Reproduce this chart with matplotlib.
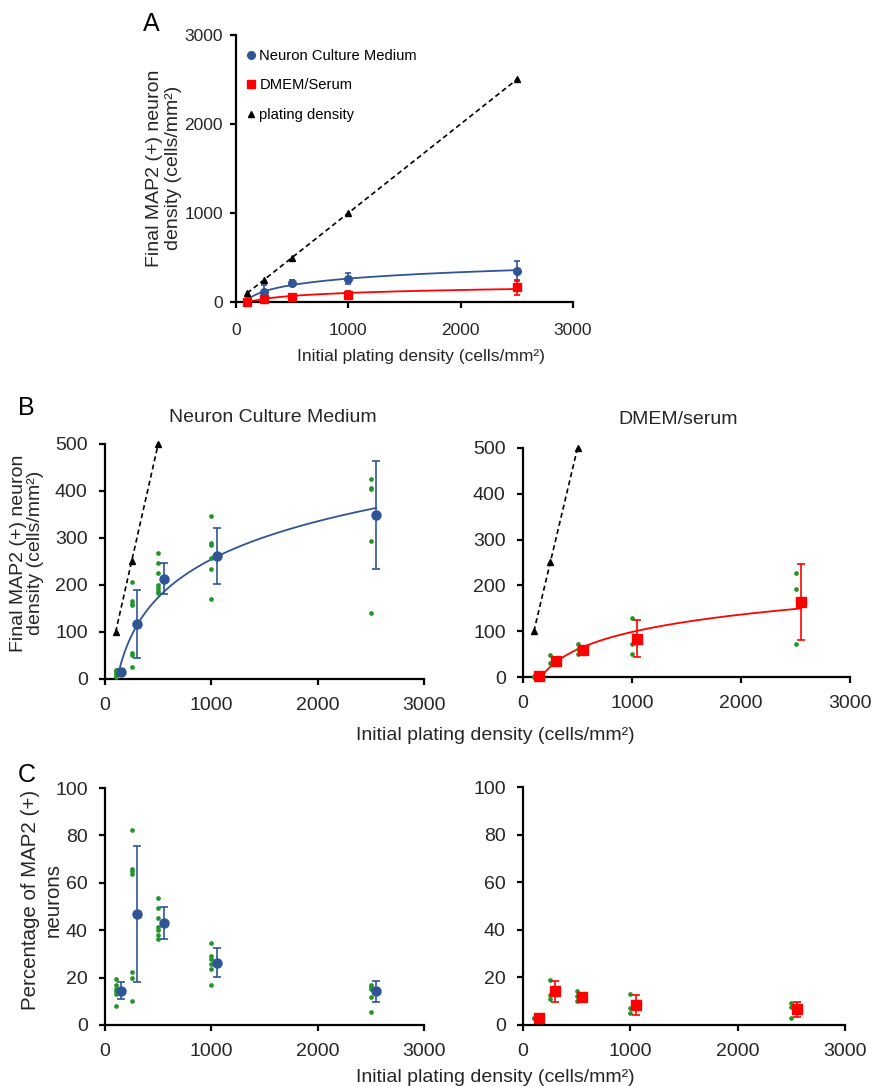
import matplotlib
matplotlib.use('Agg')
import matplotlib.pyplot as plt
import matplotlib.lines as mlines
import numpy as np

plt.rcParams['font.family'] = ['Liberation Sans', 'DejaVu Sans']

# plating densities (cells/mm2); means are drawn shifted by +50 in B and C
plating = [100, 250, 500, 1000, 2500]
plating_shift = [150, 300, 550, 1050, 2550]

# final MAP2(+) neuron density, means and SD
ncm_mean = [15, 117, 213, 262, 349]
ncm_sd = [6, 72, 33, 59, 114]
dmem_mean = [2, 34, 59, 84, 164]
dmem_sd = [1, 6, 5, 41, 83]

# individual wells (green dots), one list per plating density
ncm_pts = [[20, 13, 8, 5, 17],
           [206, 166, 160, 158, 55, 50, 26],
           [267, 246, 226, 200, 194, 187, 182],
           [346, 289, 284, 257, 234, 170],
           [425, 406, 404, 294, 140]]
dmem_pts = [[3, 1],
            [47, 31],
            [71, 62, 51],
            [129, 73, 51],
            [228, 193, 71]]

# percentage of MAP2(+) neurons
ncm_pct = [14.5, 47, 43, 26.3, 14.3]
ncm_pct_sd = [3.6, 28.7, 6.8, 6.0, 4.4]
dmem_pct = [2.8, 14.1, 11.9, 8.4, 6.6]
dmem_pct_sd = [0.5, 4.3, 1.5, 4.1, 3.2]
ncm_pct_pts = [[19.3, 16.7, 15.3, 14.3, 13.2, 8.0],
               [82.3, 66, 65, 63.5, 22.5, 19.7, 10.1],
               [53.7, 49.4, 45.3, 41.4, 40, 38, 36.3],
               [34.7, 29.1, 28, 25.9, 23.5, 17],
               [17, 16, 15.2, 11.8, 5.6]]
dmem_pct_pts = [[3.1, 2.8],
                [18.9, 12.6, 11.1],
                [14.4, 12.2, 10.2],
                [12.9, 7.3, 4.9],
                [9.1, 7.7, 3.1]]

blue = '#2f5597'
red = '#ff0000'
green = '#23962a'
tcol = '#262626'


def style(ax, ymax, ystep, fs, xpad, ypad):
    ax.set_xlim(0, 3000)
    ax.set_ylim(0, ymax)
    ax.set_xticks([0, 1000, 2000, 3000])
    ax.set_yticks(np.arange(0, ymax + 1, ystep))
    for s in ['top', 'right']:
        ax.spines[s].set_visible(False)
    for s in ['left', 'bottom']:
        ax.spines[s].set_linewidth(1.6)
    ax.tick_params(direction='out', length=4, width=1.6, labelsize=fs, labelcolor=tcol)
    ax.tick_params(axis='x', pad=xpad)
    ax.tick_params(axis='y', pad=ypad)


def logfit(ax, x, y, color, lw=1.3):
    a, b = np.polyfit(np.log(x), y, 1)
    x0 = max(x[0] * 0.8, np.exp(-b / a))
    xs = np.linspace(x0, x[-1], 200)
    ax.plot(xs, a * np.log(xs) + b, color=color, lw=lw, zorder=2)


def dots(ax, pts):
    for xv, ys in zip(plating, pts):
        ax.plot([xv] * len(ys), ys, 'o', color=green, ms=3.4, mec='none', zorder=3, clip_on=False)


def means(ax, x, m, sd, color, marker, ms, cap):
    ax.errorbar(x, m, yerr=sd, fmt='none', ecolor=color, elinewidth=1.2, capsize=cap, capthick=1.2, zorder=4)
    ax.plot(x, m, marker, color=color, ms=ms, mec=color, zorder=5, clip_on=False)


fig = plt.figure(figsize=(8.73, 10.86), dpi=100)

# ---- A ----
axA = fig.add_axes([0.2703, 0.7219, 0.3861, 0.2459])
style(axA, 3000, 1000, 12.5, 11, 5.5)
axA.plot(plating, plating, '--', color='black', lw=1.2, dashes=(3, 2), zorder=2)
axA.plot(plating, plating, '^', color='black', ms=5, zorder=5, clip_on=False)
logfit(axA, plating, ncm_mean, blue)
logfit(axA, plating, dmem_mean, red)
means(axA, plating, ncm_mean, ncm_sd, blue, 'o', 5.5, 2.5)
means(axA, plating, dmem_mean, dmem_sd, red, 's', 5.5, 2.5)
h1 = mlines.Line2D([], [], color=blue, marker='o', ls='none', ms=5.5)
h2 = mlines.Line2D([], [], color=red, marker='s', ls='none', ms=5.5)
h3 = mlines.Line2D([], [], color='black', marker='^', ls='none', ms=5)
fig.legend([h1, h2, h3], ['Neuron Culture Medium', 'DMEM/Serum', 'plating density'],
           loc='upper left', bbox_to_anchor=(0.2835, 0.9550), frameon=False, fontsize=10.6,
           handlelength=0.5, handletextpad=0.3, labelspacing=1.05, borderpad=0, borderaxespad=0)

# ---- B ----
axB1 = fig.add_axes([0.1203, 0.3748, 0.3654, 0.2164])
axB2 = fig.add_axes([0.5991, 0.3766, 0.3746, 0.2109])
for ax, m, sd, pts, col, mk in [(axB1, ncm_mean, ncm_sd, ncm_pts, blue, 'o'),
                                (axB2, dmem_mean, dmem_sd, dmem_pts, red, 's')]:
    style(ax, 500, 100, 14, 9, 8.5)
    ax.plot(plating[:3], plating[:3], '--', color='black', lw=1.2, dashes=(3, 2), zorder=2)
    ax.plot(plating[:3], plating[:3], '^', color='black', ms=5, zorder=5, clip_on=False)
    logfit(ax, plating_shift, m, col)
    dots(ax, pts)
    means(ax, plating_shift, m, sd, col, mk, 6.5, 3)

# ---- C ----
axC1 = fig.add_axes([0.1203, 0.0562, 0.3654, 0.2182])
axC2 = fig.add_axes([0.5991, 0.0562, 0.3688, 0.2191])
for ax, m, sd, pts, col, mk in [(axC1, ncm_pct, ncm_pct_sd, ncm_pct_pts, blue, 'o'),
                                (axC2, dmem_pct, dmem_pct_sd, dmem_pct_pts, red, 's')]:
    style(ax, 100, 20, 14, 9, 8.5)
    dots(ax, pts)
    means(ax, plating_shift, m, sd, col, mk, 6.5, 3)

# titles, labels, panel letters
fig.text(273 / 873, 1 - 417 / 1086, 'Neuron Culture Medium', ha='center', va='center', fontsize=14, color=tcol)
fig.text(678 / 873, 1 - 419 / 1086, 'DMEM/serum', ha='center', va='center', fontsize=14, color=tcol)

fig.text(421 / 873, 1 - 357 / 1086, 'Initial plating density (cells/mm²)', ha='center', va='center', fontsize=12.5, color=tcol)
fig.text(495 / 873, 1 - 736 / 1086, 'Initial plating density (cells/mm²)', ha='center', va='center', fontsize=14, color=tcol)
fig.text(495 / 873, 1 - 1077 / 1086, 'Initial plating density (cells/mm²)', ha='center', va='center', fontsize=14, color=tcol)

fig.text(164 / 873, 1 - 168 / 1086, 'Final MAP2 (+) neuron\ndensity (cells/mm²)', rotation=90,
         ha='center', va='center', fontsize=14, linespacing=1.15, color=tcol)
fig.text(27 / 873, 1 - 553 / 1086, 'Final MAP2 (+) neuron\ndensity (cells/mm²)', rotation=90,
         ha='center', va='center', fontsize=14, linespacing=0.95, color=tcol)
fig.text(30 / 873, 1 - 900 / 1086, 'Percentage of MAP2 (+)', rotation=90,
         ha='center', va='center', fontsize=14.8, color=tcol)
fig.text(53 / 873, 1 - 900 / 1086, 'neurons', rotation=90,
         ha='center', va='center', fontsize=14.8, color=tcol)

fig.text(151 / 873, 1 - 24 / 1086, 'A', ha='center', va='center', fontsize=18)
fig.text(26 / 873, 1 - 408 / 1086, 'B', ha='center', va='center', fontsize=18)
fig.text(27 / 873, 1 - 775 / 1086, 'C', ha='center', va='center', fontsize=18)

fig.savefig('out.png', dpi=100)
